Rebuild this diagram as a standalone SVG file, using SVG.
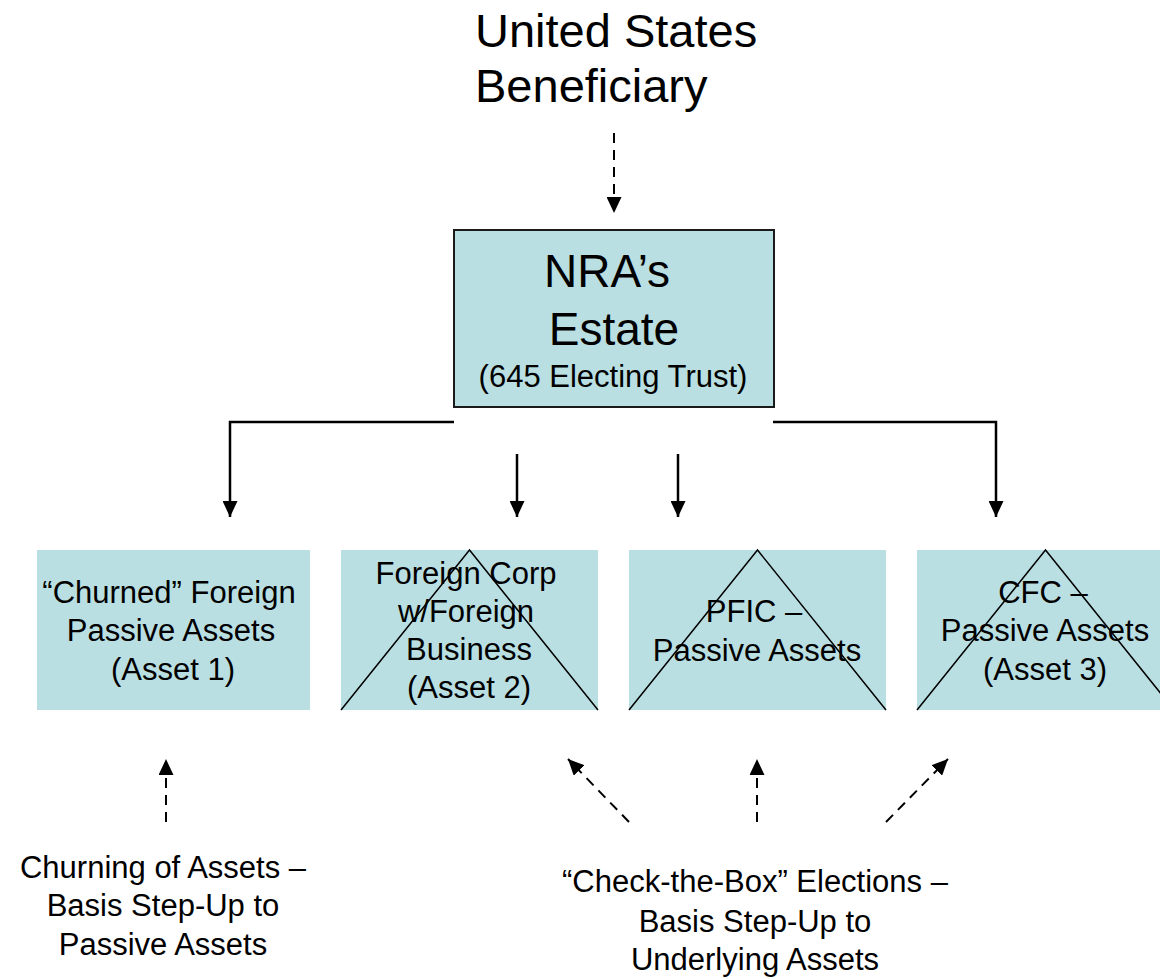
<svg xmlns="http://www.w3.org/2000/svg" width="1160" height="979" viewBox="0 0 1160 979">
<style>
text{font-family:"Liberation Sans",Arial,sans-serif;fill:#000;}
.t31{font-size:31px;text-anchor:middle;}
.box{fill:#B9DFE2;stroke:none;}
.tri{fill:none;stroke:#000;stroke-width:1.5;}
.solid{fill:none;stroke:#000;stroke-width:2.5;}
.dash{fill:none;stroke:#000;stroke-width:2;stroke-dasharray:10,7;}
</style>
<defs>
<marker id="ah" markerUnits="userSpaceOnUse" markerWidth="16" markerHeight="15" refX="16" refY="7.5" orient="auto" viewBox="0 0 16 15">
<path d="M0,0 L16,7.5 L0,15 z" fill="#000"/>
</marker>
</defs>

<g id="beneficiary">
<text x="475" y="47" font-size="47">United States</text>
<text x="475" y="102" font-size="47">Beneficiary</text>
</g>

<g id="nra-estate">
<rect x="454" y="230" width="320" height="177" fill="#B9DFE2" stroke="#1a1a1a" stroke-width="2"/>
<text x="607" y="287" font-size="46" text-anchor="middle">NRA’s</text>
<text x="614" y="345" font-size="46" text-anchor="middle">Estate</text>
<text x="613" y="387" font-size="31" text-anchor="middle">(645 Electing Trust)</text>
</g>

<g id="asset1">
<rect class="box" x="37" y="550" width="273" height="160"/>
<text class="t31" x="169" y="603">“Churned” Foreign</text>
<text class="t31" x="171" y="641">Passive Assets</text>
<text class="t31" x="173" y="680">(Asset 1)</text>
</g>

<g id="asset2">
<rect class="box" x="341" y="550" width="257" height="160"/>
<polyline class="tri" points="341,710 469.5,550 598,710"/>
<text class="t31" x="466" y="584">Foreign Corp</text>
<text class="t31" x="466" y="622">w/Foreign</text>
<text class="t31" x="469" y="660">Business</text>
<text class="t31" x="469" y="698">(Asset 2)</text>
</g>

<g id="pfic">
<rect class="box" x="629" y="550" width="257" height="160"/>
<polyline class="tri" points="629,710 757.5,550 886,710"/>
<text class="t31" x="754" y="622">PFIC –</text>
<text class="t31" x="757" y="661">Passive Assets</text>
</g>

<g id="cfc">
<rect class="box" x="917" y="550" width="257" height="160"/>
<polyline class="tri" points="917,710 1045.5,550 1174,710"/>
<text class="t31" x="1043" y="603">CFC –</text>
<text class="t31" x="1045" y="641">Passive Assets</text>
<text class="t31" x="1045" y="680">(Asset 3)</text>
</g>

<g id="label-churning">
<text class="t31" x="163" y="878">Churning of Assets –</text>
<text class="t31" x="163" y="916">Basis Step-Up to</text>
<text class="t31" x="163" y="955">Passive Assets</text>
</g>

<g id="label-check-the-box">
<text class="t31" x="755" y="892">“Check-the-Box” Elections –</text>
<text class="t31" x="755" y="932">Basis Step-Up to</text>
<text class="t31" x="755" y="970">Underlying Assets</text>
</g>

<g id="connectors">
<line class="dash" x1="614" y1="133" x2="614" y2="213" marker-end="url(#ah)"/>
<polyline class="solid" points="454,422 230,422 230,517" marker-end="url(#ah)"/>
<line class="solid" x1="517" y1="454" x2="517" y2="517" marker-end="url(#ah)"/>
<line class="solid" x1="678" y1="454" x2="678" y2="517" marker-end="url(#ah)"/>
<polyline class="solid" points="773,422 996,422 996,517" marker-end="url(#ah)"/>
<line class="dash" x1="166" y1="822" x2="166" y2="759" marker-end="url(#ah)"/>
<line class="dash" x1="629" y1="822" x2="568" y2="759" marker-end="url(#ah)"/>
<line class="dash" x1="757" y1="822" x2="757" y2="759" marker-end="url(#ah)"/>
<line class="dash" x1="886" y1="822" x2="948" y2="759" marker-end="url(#ah)"/>
</g>
</svg>
